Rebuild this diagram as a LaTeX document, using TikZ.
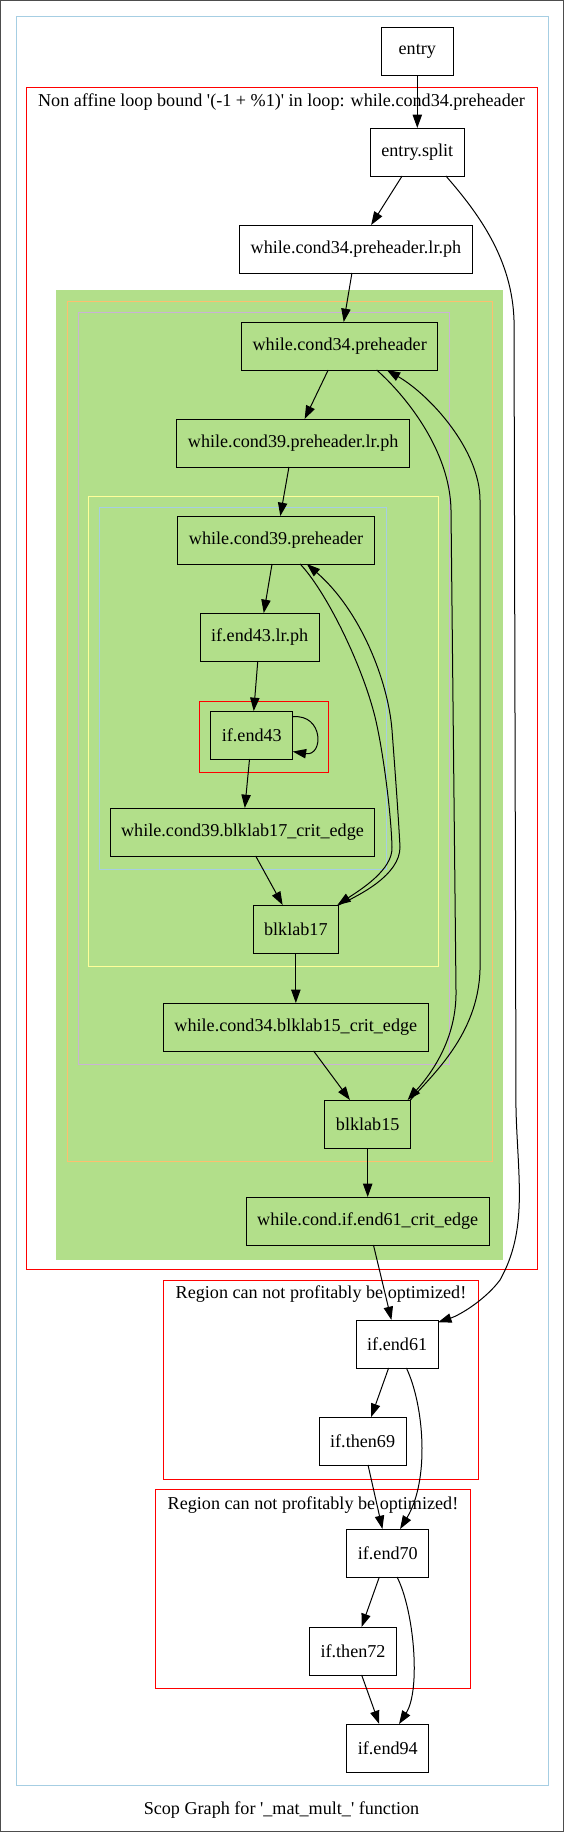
\documentclass[tikz,border=0pt]{standalone}
\usepackage{fontspec}
\setmainfont{Liberation Serif}[Ligatures=TeXOff]
\usepackage{xcolor}
\usetikzlibrary{arrows.meta, positioning}
\definecolor{pairblue}{HTML}{A6CEE3}
\definecolor{pairgreen}{HTML}{B2DF8A}
\definecolor{pairorange}{HTML}{FDBF6F}
\definecolor{pairpurple}{HTML}{CAB2D6}
\definecolor{pairyellow}{HTML}{FFFF99}
\definecolor{framegray}{RGB}{77,77,77}

\begin{document}
\begin{tikzpicture}[
    x=0.75pt, y=-0.75pt,
    font=\fontsize{13.6}{16}\selectfont,
    block/.style={draw, rectangle, line width=0.75pt, minimum width=54pt, minimum height=36pt, inner xsep=8.25pt, inner ysep=0pt, outer sep=0pt},
    region/.style={line width=0.75pt},
    flow/.style={-{Triangle[length=10pt, width=7pt]}, line width=0.75pt},
    title/.style={inner sep=0pt},
]
    \useasboundingbox (0,0) rectangle (564,1832);
    \draw[framegray, line width=0.75pt] (0.5,0.5) rectangle (563.5,1831.5);

    % clusters
    \draw[region, pairblue] (16,16) rectangle (548,1785);
    \draw[region, red] (26.3,87) rectangle (537.4,1269);
    \filldraw[region, pairgreen] (56.5,290) rectangle (502.9,1259);
    \draw[region, pairorange] (67.3,301) rectangle (492.4,1161);
    \draw[region, pairpurple] (78.4,312) rectangle (449.6,1064);
    \draw[region, pairyellow] (88.8,496) rectangle (438.8,966);
    \draw[region, pairblue] (99.6,507) rectangle (386,869);
    \draw[region, red] (199.6,701) rectangle (328.1,772);
    \draw[region, red] (163.7,1280) rectangle (478.8,1479);
    \draw[region, red] (155.4,1489) rectangle (470.9,1688);

    \node[title] (lblloop) at (281.5,102) {Non affine loop bound '(-1 + \%1)' in loop: while.cond34.preheader};
    \node[title] (lblend61) at (321,1294) {Region can not profitably be optimized!};
    \node[title] (lblend70) at (313,1505) {Region can not profitably be optimized!};
    \node[title] (caption) at (281.5,1810) {Scop Graph for '\_mat\_mult\_' function};

    % blocks
    \node[block] (entry) at (417.3,51) {entry};
    \node[block, below=39.75pt of entry] (esplit) {entry.split};
    \node[block, below=36.75pt of esplit, xshift=-46pt] (lrph34) {while.cond34.preheader.lr.ph};
    \node[block, below=36.75pt of lrph34, xshift=-12.2pt] (wc34) {while.cond34.preheader};
    \node[block, below=36.75pt of wc34, xshift=-34.9pt] (lrph39) {while.cond39.preheader.lr.ph};
    \node[block, below=36.75pt of lrph39, xshift=-12.8pt] (wc39) {while.cond39.preheader};
    \node[block, below=36.75pt of wc39, xshift=-12.3pt] (lrph43) {if.end43.lr.ph};
    \node[block, below=37.5pt of lrph43, xshift=-5.9pt] (ifend43) {if.end43};
    \node[block, below=36.75pt of ifend43, xshift=-7pt] (crit39) {while.cond39.blklab17\_crit\_edge};
    \node[block, below=36.75pt of crit39, xshift=40pt] (blk17) {blklab17};
    \node[block, below=37.5pt of blk17] (crit34) {while.cond34.blklab15\_crit\_edge};
    \node[block, below=36.75pt of crit34, xshift=53.9pt] (blk15) {blklab15};
    \node[block, below=36.75pt of blk15] (crit61) {while.cond.if.end61\_crit\_edge};
    \node[block, below=56.25pt of crit61, xshift=22.1pt] (ifend61) {if.end61};
    \node[block, below=36.75pt of ifend61, xshift=-25.9pt] (ithen69) {if.then69};
    \node[block, below=48pt of ithen69, xshift=18.9pt] (ifend70) {if.end70};
    \node[block, below=37.5pt of ifend70, xshift=-26.1pt] (ithen72) {if.then72};
    \node[block, below=36.75pt of ithen72, xshift=26.1pt] (ifend94) {if.end94};

    % edges
    \draw[flow] (entry) -- (esplit);
    \draw[flow] (esplit) -- (lrph34);
    \draw[flow] (esplit.-40) .. controls (480,215) and (512,260) .. (514,320) -- (516,1110)
        .. controls (518,1180) and (528,1230) .. (500,1280) .. controls (485,1300) and (460,1315) .. (ifend61.28);
    \draw[flow] (lrph34) -- (wc34);
    \draw[flow] (wc34) -- (lrph39);
    \draw[flow] (wc34.-33) .. controls (405,395) and (450,450) .. (451,510) -- (456,990)
        .. controls (457,1040) and (430,1075) .. (blk15.31);
    \draw[flow] (lrph39) -- (wc39);
    \draw[flow] (wc39) -- (lrph43);
    \draw[flow] (wc39.-45) .. controls (325,590) and (360,660) .. (374,713)
        .. controls (382,743) and (391,810) .. (392,847) .. controls (393,870) and (360,890) .. (blk17.30);
    \draw[flow] (lrph43) -- (ifend43);
    \draw[flow] (ifend43.24) .. controls +(31,-3) and +(31,5) .. (ifend43.-22);
    \draw[flow] (ifend43) -- (crit39);
    \draw[flow] (crit39) -- (blk17);
    \draw[flow] (blk17.north east) .. controls (360,895) and (400,875) .. (400,847)
        .. controls (398,810) and (395,770) .. (392,730) .. controls (388,680) and (360,610) .. (wc39.-38);
    \draw[flow] (blk17) -- (crit34);
    \draw[flow] (crit34) -- (blk15);
    \draw[flow] (blk15.north east) .. controls (432,1075) and (478,1035) .. (480,970) -- (480,500)
        .. controls (480,450) and (430,395) .. (wc34.-27);
    \draw[flow] (blk15) -- (crit61);
    \draw[flow] (crit61) -- (ifend61);
    \draw[flow] (ifend61) -- (ithen69);
    \draw[flow] (ifend61.-69) .. controls (424,1405) and (430,1480) .. (ifend70.63);
    \draw[flow] (ithen69) -- (ifend70);
    \draw[flow] (ifend70) -- (ithen72);
    \draw[flow] (ifend70.-69) .. controls (414,1610) and (421,1690) .. (ifend94.65);
    \draw[flow] (ithen72) -- (ifend94);
\end{tikzpicture}
\end{document}
